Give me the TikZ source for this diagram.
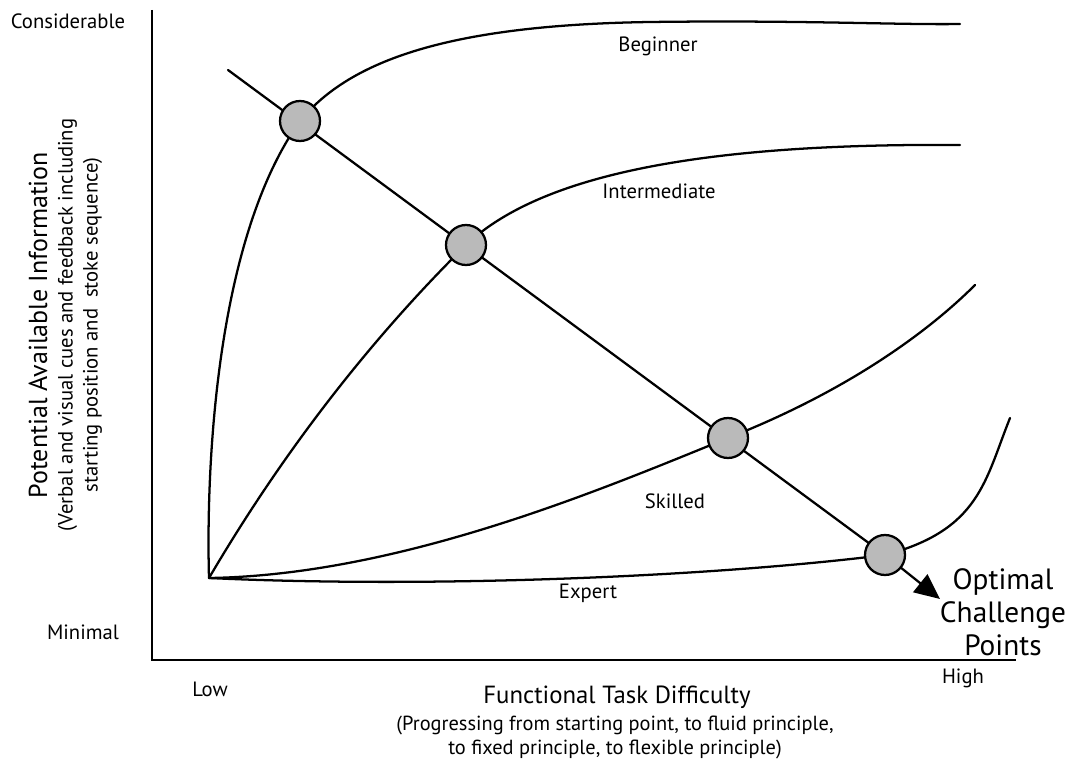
\documentclass[tikz,border=0pt]{standalone}
\usepackage{fontspec}
\setmainfont{PT Sans}
\usetikzlibrary{arrows.meta}
\tikzset{
  curve/.style={line width=1.7pt, line cap=round},
  axis/.style={line width=2pt},
  ocp/.style={circle, draw=black, fill=black!27, line width=1.7pt, minimum size=30pt, inner sep=0pt},
  lbl/.style={font=\fontsize{15.5}{18}\selectfont, inner sep=0pt},
  big/.style={font=\fontsize{18.6}{22}\selectfont, inner sep=0pt, align=center},
  sub/.style={font=\fontsize{15.3}{18}\selectfont, inner sep=0pt, align=center}
}
\begin{document}
\begin{tikzpicture}[x=0.75pt,y=-0.75pt]
\useasboundingbox (0,0) rectangle (1066,763);
% axes
\coordinate (ytop) at (152,10);
\coordinate (orig) at (152,660);
\coordinate (xend) at (1016,660);
\draw[axis] (ytop) -- (orig) -- (xend);
% circle node positions
\coordinate (c1p) at (300,121);
\coordinate (c2p) at (466,245);
\coordinate (c3p) at (728,438);
\coordinate (c4p) at (885,555);
\coordinate (O) at (209,578);
% curves
\draw[curve] (O) .. controls (206,470) and (215,240) .. (c1p)
  .. controls (350,60) and (450,25) .. (650,22)
  .. controls (800,20) and (900,25) .. (960,24);
\draw[curve] (O) .. controls (290,440) and (380,330) .. (c2p)
  .. controls (540,175) and (700,143) .. (960,145);
\draw[curve] (O) .. controls (400,575) and (600,490) .. (c3p)
  .. controls (850,390) and (930,330) .. (975,285);
\draw[curve] (O) .. controls (420,588) and (700,578) .. (c4p)
  .. controls (980,530) and (985,480) .. (1010,418);
% diagonal line with arrow
\coordinate (dstart) at (228,70);
\coordinate (dend) at (940,599);
\draw[curve] (dstart) -- (c4p);
\draw[line width=1.7pt, -{Triangle[length=19pt,width=17pt]}] (c4p) -- (dend);
% circles
\node[ocp] (c1) at (c1p) {};
\node[ocp] (c2) at (c2p) {};
\node[ocp] (c3) at (c3p) {};
\node[ocp] (c4) at (c4p) {};
% labels
\node[lbl] (beg) at (658,46) {Beginner};
\node[lbl] (int) at (659,191) {Intermediate};
\node[lbl] (ski) at (675,501) {Skilled};
\node[lbl] (exp) at (588,593) {Expert};
\node[lbl] (cons) at (68,21) {Considerable};
\node[lbl] (mini) at (83,632) {Minimal};
\node[lbl] (low) at (210,689) {Low};
\node[lbl] (high) at (963,678) {High};
\node[big, font=\fontsize{22}{24.75}\selectfont] (ocpl) at (1003,612) {Optimal\\Challenge\\Points};
\node[big] (xlab) at (617,697) {Functional Task Difficulty};
\node[sub] (xsub) at (615,737) {(Progressing from starting point, to fluid principle,\\to fixed principle, to flexible principle)};
\node[big, font=\fontsize{19.5}{22}\selectfont, rotate=90] (ylab) at (38,325) {Potential Available Information};
\node[sub, font=\fontsize{15.5}{18.75}\selectfont, rotate=90] (ysub) at (80,325) {(Verbal and visual cues and feedback including\\starting position and\ \ stoke sequence)};
\end{tikzpicture}
\end{document}
